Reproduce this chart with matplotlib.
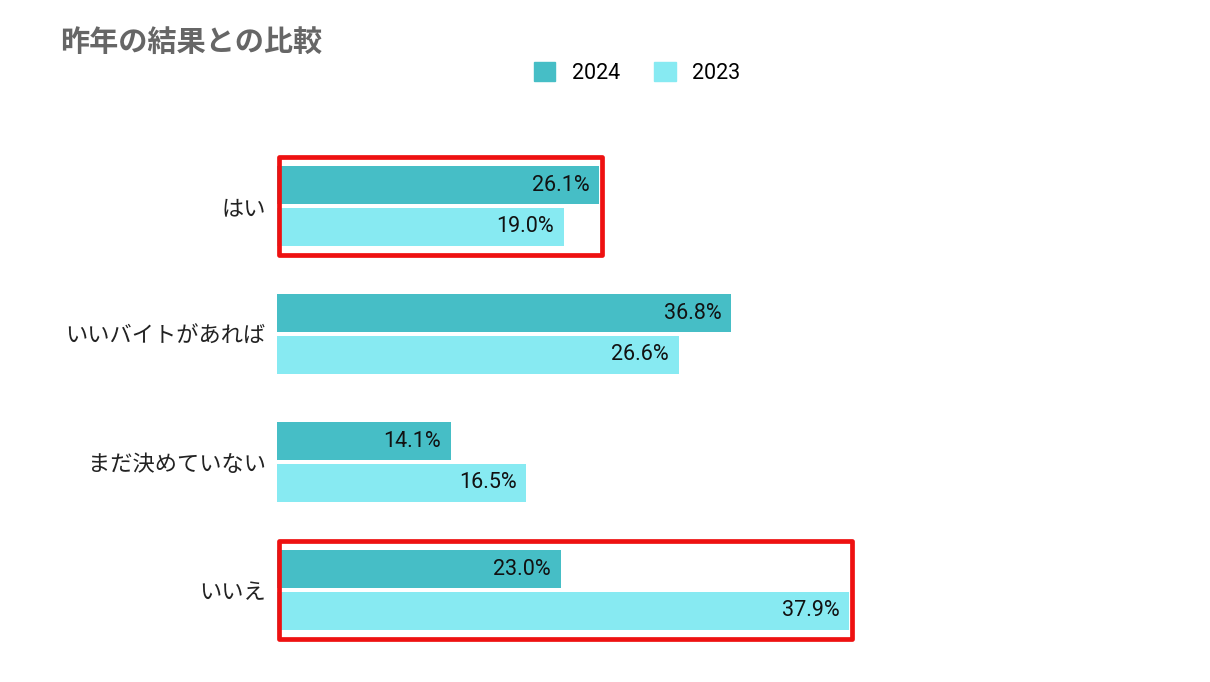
import matplotlib
matplotlib.use("Agg")
import matplotlib.pyplot as plt
from matplotlib.patches import Patch, Rectangle
from matplotlib.transforms import Bbox

categories = ["はい", "いいバイトがあれば", "まだ決めていない", "いいえ"]
values_2024 = [26.1, 36.8, 14.1, 23.0]
values_2023 = [19.0, 26.6, 16.5, 37.9]
series_names = ["2024", "2023"]
highlight = [0, 3]

c2024 = "#46bec6"
c2023 = "#87eaf2"
jp = ["Noto Sans CJK JP", "DejaVu Sans"]
num = ["Roboto", "DejaVu Sans"]

W, H = 1210, 682
fig = plt.figure(figsize=(W / 100, H / 100), dpi=100)
ax = fig.add_axes([277 / W, 1 - 654 / H, (1180 - 277) / W, 512 / H])
ax2 = ax.twiny()

ypos = list(range(len(categories)))
bh = 0.297
off = 0.164
bars1 = ax.barh([y - off for y in ypos], values_2024, height=bh, color=c2024)
bars2 = ax2.barh([y + off for y in ypos], values_2023, height=bh, color=c2023)

ax.set_xlim(0, 73.2)
ax2.set_xlim(0, 59.8)
for a in (ax, ax2):
    a.set_ylim(3.5, -0.5)
    for s in a.spines.values():
        s.set_visible(False)
    a.set_xticks([])
ax.set_yticks(ypos)
ax.set_yticklabels(categories, fontfamily=jp, fontsize=16, color="#222222")
ax.tick_params(axis="y", length=0, pad=8)

for a, bars, vals in ((ax, bars1, values_2024), (ax2, bars2, values_2023)):
    a.bar_label(bars, labels=[f"{v:.1f}%" for v in vals], padding=-7,
                fontfamily=num, fontsize=15.5, color="#111111")
    for t in a.texts:
        t.set_ha("right")

fig.text(60 / W, 1 - 42 / H, "昨年の結果との比較", fontfamily=jp, fontsize=21,
         fontweight="bold", color="#666666", va="center", ha="left")

handles = [Patch(color=c2024), Patch(color=c2023)]
fig.legend(handles, series_names, loc="center", bbox_to_anchor=(637 / W, 1 - 73 / H),
           ncol=2, frameon=False, prop={"family": num, "size": 15.5},
           handlelength=1.0, handleheight=1.0, handletextpad=0.75, columnspacing=1.6)

fig.canvas.draw()
for i in highlight:
    e1 = bars1[i].get_window_extent()
    e2 = bars2[i].get_window_extent()
    bb = Bbox.union([e1, e2])
    x0, y0 = bb.x0 + 1.5, bb.y0 - 9
    x1, y1 = bb.x1 + 3, bb.y1 + 9
    rect = Rectangle((x0, y0), x1 - x0, y1 - y0, transform=None, fill=False,
                     edgecolor="#ee1111", linewidth=3.4, joinstyle="round", zorder=10)
    fig.patches.append(rect)

fig.savefig("out.png", dpi=100)
